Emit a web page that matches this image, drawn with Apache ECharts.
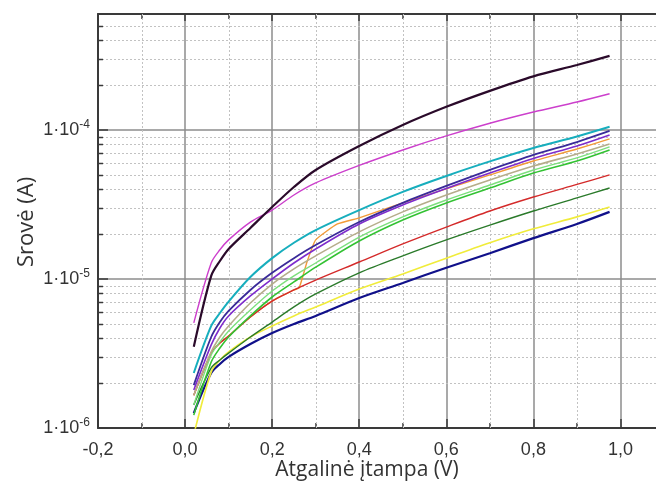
<!DOCTYPE html>
<html><head><meta charset="utf-8">
<script src="https://cdn.jsdelivr.net/npm/echarts@6/dist/echarts.min.js"></script>
<style>html,body{margin:0;padding:0;background:#fff}#c{width:656px;height:489px}</style>
</head><body><div id="c"></div>
<script>
// ---- data ----
const voltage = [0.02, 0.06, 0.08, 0.1, 0.15, 0.2, 0.25, 0.3, 0.4, 0.5, 0.6, 0.7, 0.8, 0.9, 0.975];
const orangeVoltage = [0.02, 0.06, 0.08, 0.1, 0.15, 0.2, 0.25, 0.262, 0.28, 0.3, 0.35, 0.4, 0.5, 0.6, 0.7, 0.8, 0.9, 0.975];

const blackCurrent   = [3.51e-6, 1.05e-5, 1.32e-5, 1.59e-5, 2.20e-5, 3.04e-5, 4.14e-5, 5.39e-5, 7.81e-5, 1.08e-4, 1.43e-4, 1.83e-4, 2.29e-4, 2.73e-4, 3.14e-4];
const magentaCurrent = [5.07e-6, 1.28e-5, 1.57e-5, 1.83e-5, 2.41e-5, 2.90e-5, 3.66e-5, 4.41e-5, 5.78e-5, 7.34e-5, 9.12e-5, 1.11e-4, 1.32e-4, 1.54e-4, 1.75e-4];
const cyanCurrent    = [2.34e-6, 4.84e-6, 5.91e-6, 7.05e-6, 1.03e-5, 1.38e-5, 1.75e-5, 2.13e-5, 2.90e-5, 3.84e-5, 4.91e-5, 6.15e-5, 7.57e-5, 9.04e-5, 1.05e-4];
const indigoCurrent  = [1.94e-6, 4.08e-6, 5.14e-6, 6.10e-6, 8.44e-6, 1.10e-5, 1.38e-5, 1.69e-5, 2.41e-5, 3.24e-5, 4.21e-5, 5.39e-5, 6.80e-5, 8.30e-5, 9.85e-5];
const purpleCurrent  = [1.80e-6, 3.61e-6, 4.69e-6, 5.65e-6, 7.69e-6, 1.00e-5, 1.28e-5, 1.59e-5, 2.34e-5, 3.14e-5, 4.05e-5, 5.14e-5, 6.44e-5, 7.81e-5, 9.26e-5];
const orangeCurrent  = [1.66e-6, 3.18e-6, 3.72e-6, 4.14e-6, 5.56e-6, 7.11e-6, 8.44e-6, 8.70e-6, 1.30e-5, 1.83e-5, 2.34e-5, 2.57e-5, 3.24e-5, 4.02e-5, 4.99e-5, 6.19e-5, 7.45e-5, 8.71e-5];
const khakiCurrent   = [1.66e-6, 3.24e-6, 4.08e-6, 4.84e-6, 6.90e-6, 9.25e-6, 1.17e-5, 1.43e-5, 2.07e-5, 2.82e-5, 3.66e-5, 4.62e-5, 5.73e-5, 6.90e-5, 8.05e-5];
const lightGreenCurrent = [1.43e-6, 3.09e-6, 3.78e-6, 4.48e-6, 6.19e-6, 8.30e-6, 1.05e-5, 1.28e-5, 1.91e-5, 2.61e-5, 3.39e-5, 4.27e-5, 5.39e-5, 6.49e-5, 7.69e-5];
const greenCurrent   = [1.22e-6, 2.77e-6, 3.44e-6, 4.08e-6, 5.65e-6, 7.57e-6, 9.55e-6, 1.20e-5, 1.80e-5, 2.49e-5, 3.24e-5, 4.08e-5, 5.14e-5, 6.19e-5, 7.34e-5];
const redCurrent     = [1.66e-6, 3.18e-6, 3.72e-6, 4.14e-6, 5.56e-6, 7.11e-6, 8.44e-6, 9.84e-6, 1.30e-5, 1.72e-5, 2.23e-5, 2.86e-5, 3.55e-5, 4.31e-5, 4.99e-5];
const darkGreenCurrent = [1.43e-6, 2.53e-6, 2.86e-6, 3.18e-6, 4.08e-6, 5.14e-6, 6.49e-6, 7.93e-6, 1.10e-5, 1.43e-5, 1.83e-5, 2.30e-5, 2.86e-5, 3.50e-5, 4.08e-5];
const yellowCurrent  = [9.0e-7, 2.38e-6, 2.86e-6, 3.24e-6, 4.08e-6, 4.84e-6, 5.65e-6, 6.49e-6, 8.57e-6, 1.08e-5, 1.38e-5, 1.75e-5, 2.17e-5, 2.61e-5, 3.04e-5];
const navyCurrent    = [1.26e-6, 2.34e-6, 2.69e-6, 3.00e-6, 3.66e-6, 4.34e-6, 4.99e-6, 5.65e-6, 7.45e-6, 9.40e-6, 1.19e-5, 1.49e-5, 1.88e-5, 2.34e-5, 2.82e-5];

const minorYTicks = [2e-6,3e-6,4e-6,5e-6,6e-6,7e-6,8e-6,9e-6, 2e-5,3e-5,4e-5,5e-5,6e-5,7e-5,8e-5,9e-5, 2e-4,3e-4,4e-4,5e-4];
const minorXTicks = [-0.1, 0.1, 0.3, 0.5, 0.7, 0.9];
const xTitle = 'Atgalinė įtampa (V)';
const yTitle = 'Srovė (A)';

// ---- chart ----
const AX = '#3a3a3a', MAJ = '#8c8c8c', MIN = '#c2c2c2';
const chart = echarts.init(document.getElementById('c'), null, {renderer: 'canvas'});

function pairs(xs, ys) { return xs.map((x, i) => [x, ys[i]]); }
function lineSeries(xs, ys, color, width, smooth) {
  return {
    type: 'line', data: pairs(xs, ys), symbol: 'none', showSymbol: false,
    smooth: smooth === undefined ? 0.3 : smooth, z: 3, silent: true,
    lineStyle: {color: color, width: width}, xAxisIndex: 0, yAxisIndex: 0
  };
}
const xBase = {type: 'value', min: -0.2, max: 1.1, gridIndex: 0};
const labelFont = "'Liberation Sans', Arial, sans-serif";

const option = {
  animation: false,
  backgroundColor: '#ffffff',
  grid: {left: 98, top: 14, width: 566, height: 414, containLabel: false, outerBoundsMode: 'none'},
  xAxis: [
    Object.assign({}, xBase, {
      position: 'bottom', interval: 0.2,
      axisLine: {show: true, onZero: false, lineStyle: {color: AX, width: 2}},
      axisTick: {show: true, inside: true, length: 9, lineStyle: {color: AX, width: 1.5}},
      axisLabel: {
        show: true, margin: 13, fontSize: 18, color: '#333', fontFamily: labelFont,
        formatter: function (v) {
          const k = Math.round(v * 10);
          if (k % 2 !== 0) return '';
          return (k / 10).toFixed(1).replace('.', ',');
        }
      },
      splitLine: {show: true, lineStyle: {color: MAJ, width: 1.5}}
    }),
    Object.assign({}, xBase, {
      position: 'bottom', interval: 0.1,
      axisLine: {show: false, onZero: false},
      axisTick: {show: true, inside: true, length: 5, lineStyle: {color: AX, width: 1.5}},
      axisLabel: {show: false}, splitLine: {show: false}
    }),
    Object.assign({}, xBase, {
      position: 'top', interval: 0.2,
      axisLine: {show: true, onZero: false, lineStyle: {color: AX, width: 2}},
      axisTick: {show: true, inside: true, length: 7, lineStyle: {color: AX, width: 1.5}},
      axisLabel: {show: false}, splitLine: {show: false}
    }),
    Object.assign({}, xBase, {
      position: 'top', interval: 0.1,
      axisLine: {show: false, onZero: false},
      axisTick: {show: true, inside: true, length: 5, lineStyle: {color: AX, width: 1.5}},
      axisLabel: {show: false}, splitLine: {show: false}
    })
  ],
  yAxis: [{
    type: 'log', logBase: 10, min: 1e-6, max: 6e-4, gridIndex: 0,
    axisLine: {show: true, onZero: false, lineStyle: {color: AX, width: 2}},
    axisTick: {show: true, inside: true, length: 10, lineStyle: {color: AX, width: 1.5}},
    axisLabel: {
      show: true, margin: 8, color: '#333', fontFamily: labelFont, fontSize: 18,
      formatter: function (v) {
        const e = Math.log10(v), r = Math.round(e);
        if (Math.abs(e - r) > 1e-6) return '';
        return '{b|1·10}{s|' + r + '}';
      },
      rich: {
        b: {fontSize: 18, color: '#333', fontFamily: labelFont},
        s: {fontSize: 12, color: '#333', fontFamily: labelFont, padding: [0, 0, 11, 0]}
      }
    },
    splitLine: {show: true, lineStyle: {color: MAJ, width: 1.5}},
    minorTick: {show: false}, minorSplitLine: {show: false}
  }],
  graphic: [
    {type: 'text', x: 367, y: 470, style: {text: xTitle, font: "21px 'Open Sans', sans-serif", fill: '#333', textAlign: 'center', textVerticalAlign: 'middle'}},
    {type: 'text', x: 27, y: 222, rotation: Math.PI / 2, style: {text: yTitle, font: "22px 'Open Sans', sans-serif", fill: '#333', textAlign: 'center', textVerticalAlign: 'middle'}}
  ],
  series: [
    {
      type: 'custom', xAxisIndex: 0, yAxisIndex: 0, silent: true, z: 1, clip: false,
      data: minorYTicks.map(v => [0, v]),
      renderItem: function (params, api) {
        const cs = params.coordSys;
        const y = Math.round(api.coord([0, api.value(1)])[1]) + 0.5;
        return {type: 'group', children: [
          {type: 'line', shape: {x1: cs.x, y1: y, x2: cs.x + cs.width, y2: y}, style: {stroke: MIN, lineWidth: 1, lineDash: [2, 2]}},
          {type: 'line', shape: {x1: cs.x, y1: y, x2: cs.x + 5, y2: y}, style: {stroke: AX, lineWidth: 1.5}}
        ]};
      }
    },
    {
      type: 'custom', xAxisIndex: 0, yAxisIndex: 0, silent: true, z: 1, clip: false,
      data: minorXTicks.map(v => [v, 1e-5]),
      renderItem: function (params, api) {
        const cs = params.coordSys;
        const x = Math.round(api.coord([api.value(0), 1e-5])[0]) + 0.5;
        return {type: 'line', shape: {x1: x, y1: cs.y, x2: x, y2: cs.y + cs.height}, style: {stroke: MIN, lineWidth: 1, lineDash: [2, 2]}};
      }
    },
    lineSeries(orangeVoltage, orangeCurrent, '#f29b38', 1.4, 0.15),
    lineSeries(voltage, navyCurrent, '#10108a', 2.2),
    lineSeries(voltage, yellowCurrent, '#f0ec3a', 1.6),
    lineSeries(voltage, darkGreenCurrent, '#2a7a2a', 1.4),
    lineSeries(voltage, redCurrent, '#d42a2a', 1.4),
    lineSeries(voltage, greenCurrent, '#33c233', 1.6),
    lineSeries(voltage, lightGreenCurrent, '#7ddf7d', 1.4),
    lineSeries(voltage, khakiCurrent, '#b5ad8a', 1.6),
    lineSeries(voltage, purpleCurrent, '#7e2ccc', 1.6),
    lineSeries(voltage, indigoCurrent, '#3a2a99', 1.8),
    lineSeries(voltage, cyanCurrent, '#17aebd', 2),
    lineSeries(voltage, magentaCurrent, '#cc3fcc', 1.4),
    lineSeries(voltage, blackCurrent, '#2a0a2a', 2.2)
  ]
};
chart.setOption(option);
</script>
</body></html>
